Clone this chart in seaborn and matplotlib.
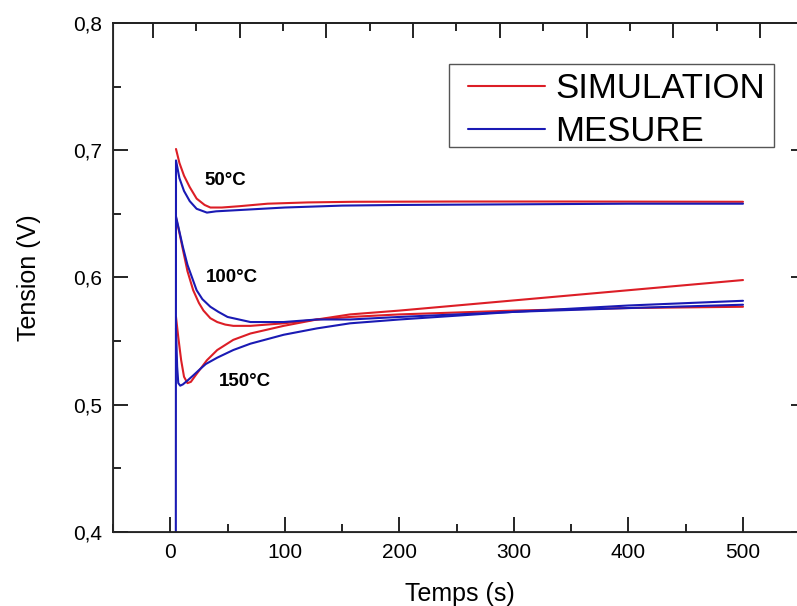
import numpy as np
import pandas as pd
import matplotlib
matplotlib.use("Agg")
import matplotlib.pyplot as plt
import seaborn as sns
from matplotlib.patches import Rectangle
from matplotlib.ticker import MultipleLocator, FuncFormatter

# values
sim_50_t = [5, 8, 12, 17, 23, 30, 35, 45, 60, 85, 120, 160, 250, 350, 500]
sim_50_v = [0.701, 0.690, 0.680, 0.671, 0.662, 0.657, 0.655, 0.655, 0.656, 0.658, 0.659, 0.6595, 0.6597, 0.6597, 0.6595]
mes_50_t = [4.8, 5, 8, 12, 17, 23, 32, 40, 60, 100, 150, 200, 300, 400, 500]
mes_50_v = [0.30, 0.692, 0.678, 0.668, 0.660, 0.654, 0.651, 0.652, 0.653, 0.655, 0.6565, 0.657, 0.6575, 0.658, 0.658]

sim_100_t = [5, 8, 11, 15, 20, 25, 29, 35, 41, 48, 55, 70, 99, 128, 157, 200, 300, 400, 500]
sim_100_v = [0.647, 0.635, 0.622, 0.605, 0.590, 0.580, 0.574, 0.568, 0.565, 0.563, 0.562, 0.562, 0.564, 0.567, 0.569, 0.571, 0.574, 0.576, 0.577]
mes_100_t = [5, 8, 11, 15, 19, 23, 28, 35, 42, 50, 60, 70, 99, 128, 157, 200, 300, 400, 500]
mes_100_v = [0.648, 0.636, 0.624, 0.610, 0.600, 0.590, 0.583, 0.577, 0.573, 0.569, 0.567, 0.565, 0.565, 0.567, 0.567, 0.569, 0.573, 0.576, 0.5786]

sim_150_t = [5, 7, 9.5, 12, 15, 18, 22, 27, 32, 41, 55, 70, 99, 128, 157, 200, 300, 400, 500]
sim_150_v = [0.569, 0.553, 0.535, 0.522, 0.517, 0.518, 0.523, 0.529, 0.535, 0.543, 0.551, 0.556, 0.562, 0.567, 0.571, 0.574, 0.582, 0.590, 0.598]
mes_150_t = [5, 6, 7, 8.7, 11, 15, 20, 26, 31, 41, 55, 70, 99, 128, 157, 200, 300, 400, 500]
mes_150_v = [0.56, 0.53, 0.517, 0.515, 0.516, 0.519, 0.523, 0.528, 0.532, 0.537, 0.543, 0.548, 0.555, 0.560, 0.564, 0.567, 0.573, 0.578, 0.5817]

labels_temp = ["50°C", "100°C", "150°C"]
label_pos_t = [30, 31, 42]
label_pos_v = [0.676, 0.600, 0.518]

curves = [
    ("SIMULATION", "50", sim_50_t, sim_50_v),
    ("MESURE", "50", mes_50_t, mes_50_v),
    ("SIMULATION", "100", sim_100_t, sim_100_v),
    ("MESURE", "100", mes_100_t, mes_100_v),
    ("SIMULATION", "150", sim_150_t, sim_150_v),
    ("MESURE", "150", mes_150_t, mes_150_v),
]
rows = []
for kind, temp, ts, vs in curves:
    for t, v in zip(ts, vs):
        rows.append({"t": t, "v": v, "kind": kind, "curve": kind + temp})
df = pd.DataFrame(rows)

sns.set_style("ticks")
plt.rcParams["font.family"] = ["Liberation Sans", "DejaVu Sans"]
plt.rcParams["text.color"] = "black"
plt.rcParams["axes.labelcolor"] = "black"
plt.rcParams["xtick.color"] = "black"
plt.rcParams["ytick.color"] = "black"

fig = plt.figure(figsize=(7.97, 6.06), dpi=100)
ax = fig.add_axes([113 / 797, 74 / 606, 693 / 797, 509 / 606])

red = "#dc1e26"
blue = "#1a1ab4"
sns.lineplot(data=df, x="t", y="v", hue="kind", units="curve", estimator=None,
             sort=False, palette={"SIMULATION": red, "MESURE": blue},
             linewidth=1.5, ax=ax)

ax.set_xlim(-50, 555)
ax.set_ylim(0.4, 0.8)
ax.xaxis.set_major_locator(MultipleLocator(100))
ax.xaxis.set_minor_locator(MultipleLocator(50))
ax.yaxis.set_major_locator(MultipleLocator(0.1))
ax.yaxis.set_minor_locator(MultipleLocator(0.05))
ax.xaxis.set_major_formatter(FuncFormatter(lambda x, p: f"{x:.0f}"))
ax.yaxis.set_major_formatter(FuncFormatter(lambda y, p: f"{y:.1f}".replace(".", ",")))
ax.tick_params(which="both", direction="in", right=True, top=False, color="black", width=1.2)
ax.tick_params(which="major", length=11, labelsize=15, pad=8, labelcolor="black")
ax.tick_params(which="minor", length=6)
for s in ax.spines.values():
    s.set_linewidth(1.3)
    s.set_color("#222222")

# top axis with its own tick spacing, no labels
top = ax.twiny()
top.set_xlim(-0.46, 7.53)
top.xaxis.set_major_locator(MultipleLocator(1))
top.xaxis.set_minor_locator(MultipleLocator(0.5))
top.tick_params(which="both", direction="in", labeltop=False, width=1.2, color="black")
top.tick_params(which="major", length=11)
top.tick_params(which="minor", length=6)
top.spines["top"].set_linewidth(1.3)
top.spines["top"].set_color("#222222")

ax.set_xlabel("Temps (s)", fontsize=18, labelpad=14)
ax.set_ylabel("Tension (V)", fontsize=18, labelpad=23)

for lab, t, v in zip(labels_temp, label_pos_t, label_pos_v):
    ax.text(t, v, lab, fontsize=13.5, fontweight="bold", va="center", ha="left", color="black")

# legend: frame drawn separately so the padding matches the original
ax.add_patch(Rectangle(((449 - 113) / 693, (532 - 147) / 509), 325 / 693, 83 / 509,
                       transform=ax.transAxes, fill=False, edgecolor="#555555",
                       linewidth=1.0, zorder=5))
handles, labs = ax.get_legend_handles_labels()
leg = ax.legend(handles, labs, loc="upper left",
                bbox_to_anchor=((468 - 113) / 693, (532 - 72) / 509),
                borderaxespad=0, borderpad=0, fontsize=25, handlelength=2.22,
                handletextpad=0.29, labelspacing=0.28, frameon=False)
for txt in leg.get_texts():
    txt.set_color("black")

fig.savefig("out.png", dpi=100)
